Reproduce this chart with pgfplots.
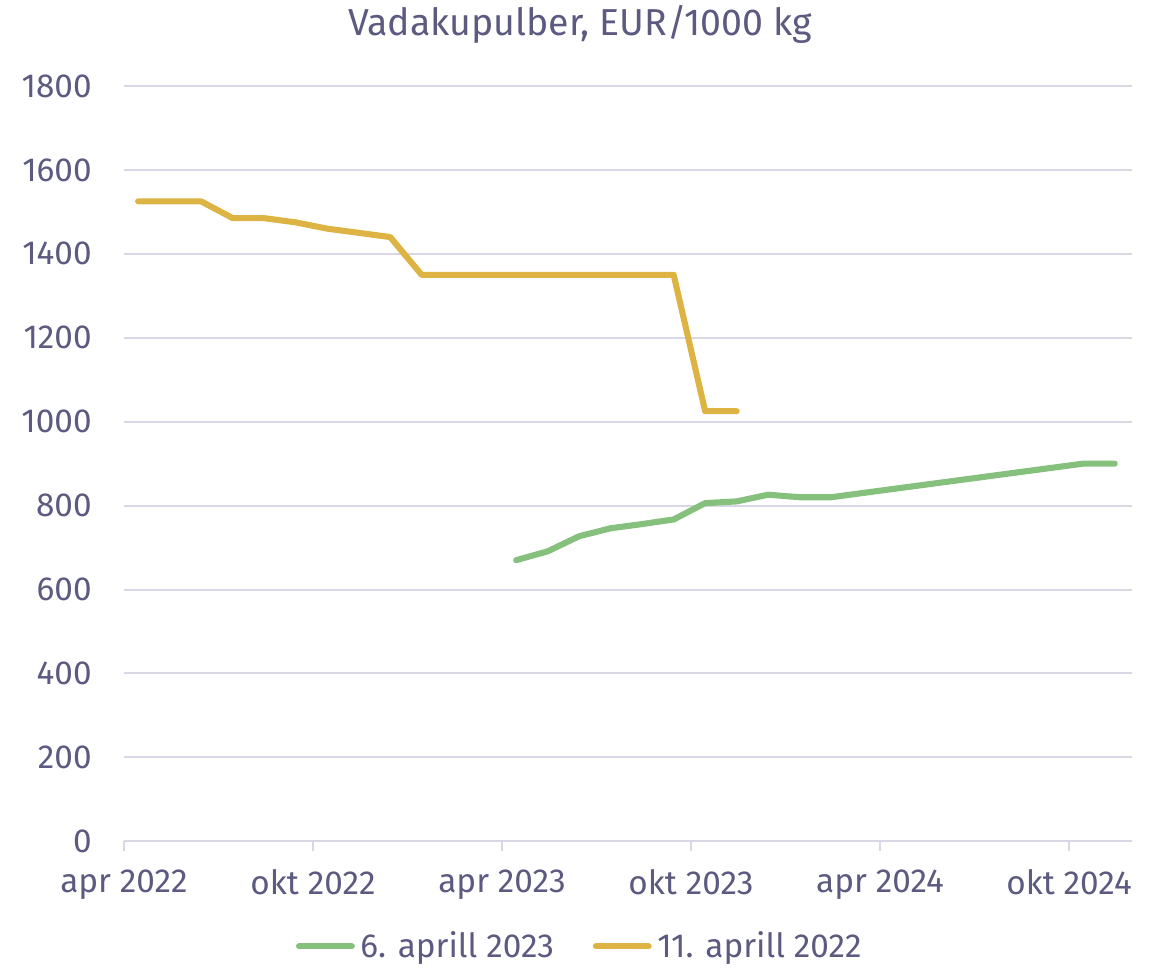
\documentclass[border=0pt]{standalone}
\usepackage{fontspec}
\setmainfont{Fira Sans}
\usepackage{pgfplots}
\pgfplotsset{compat=1.18}
\definecolor{txt}{HTML}{5C5A80}
\definecolor{gridc}{HTML}{D9D7E6}
\definecolor{gold}{HTML}{DDB443}
\definecolor{green}{HTML}{86C07D}

% month index from apr 2022
\begin{document}
\begin{tikzpicture}
\begin{axis}[scale only axis, width=363pt, height=272pt,
  xmin=0, xmax=32, ymin=0, ymax=1800,
  axis lines=left, axis line style={draw=gridc, line width=0.7pt, -},
  y axis line style={draw=none},
  xtick={0,6,...,30},
  xticklabels={apr 2022, okt 2022, apr 2023, okt 2023, apr 2024, okt 2024},
  ytick={0,200,...,1800},
  ymajorgrids, grid style={gridc, line width=0.7pt},
  tick align=outside, major tick length=3.6pt,
  xtick style={draw=gridc, line width=0.7pt},
  ytick style={draw=none},
  ticklabel style={font=\fontsize{12}{14}\selectfont, text=txt},
  /pgf/number format/assume math mode=true,
  /pgf/number format/1000 sep={},
  xticklabel style={yshift=-3pt},
  yticklabel style={xshift=-4.5pt},
  legend style={at={(0.454,-0.139)}, anchor=center, draw=none, fill=none,
    legend columns=2, font=\fontsize{12}{14}\selectfont, text=txt,
    /tikz/every even column/.append style={column sep=12pt}},
  legend image code/.code={\draw[#1, line cap=round] (0pt,0pt) -- (19pt,0pt);},
]
\addplot[green, line width=2.2pt, line join=round, line cap=round] table[x expr=\thisrow{m}+0.45, y=v] {
m v
12 670
13 691
14 727
15 746
16 756
17 767
18 806
19 810
20 826
21 820
22 820
23 830
24 840
25 850
26 860
27 870
28 880
29 890
30 900
31 900
};
\addlegendentry{6. aprill 2023}
\addplot[gold, line width=2.2pt, line join=round, line cap=round] table[x expr=\thisrow{m}+0.45, y=v] {
m v
0 1525
1 1525
2 1525
3 1485
4 1485
5 1475
6 1460
7 1450
8 1440
9 1350
10 1350
11 1350
12 1350
13 1350
14 1350
15 1350
16 1350
17 1350
18 1025
19 1025
};
\addlegendentry{11. aprill 2022}
\end{axis}
\node[text=txt, font=\fontsize{13.5}{15}\selectfont, anchor=base]
  at ([xshift=-17.3pt, yshift=18pt]current axis.north) {Vadakupulber, EUR/1000 kg};
\pgfresetboundingbox
\path ([xshift=-44.64pt, yshift=-45.36pt]current axis.south west)
      ([xshift=7.56pt, yshift=30.96pt]current axis.north east);
\end{tikzpicture}
\end{document}
